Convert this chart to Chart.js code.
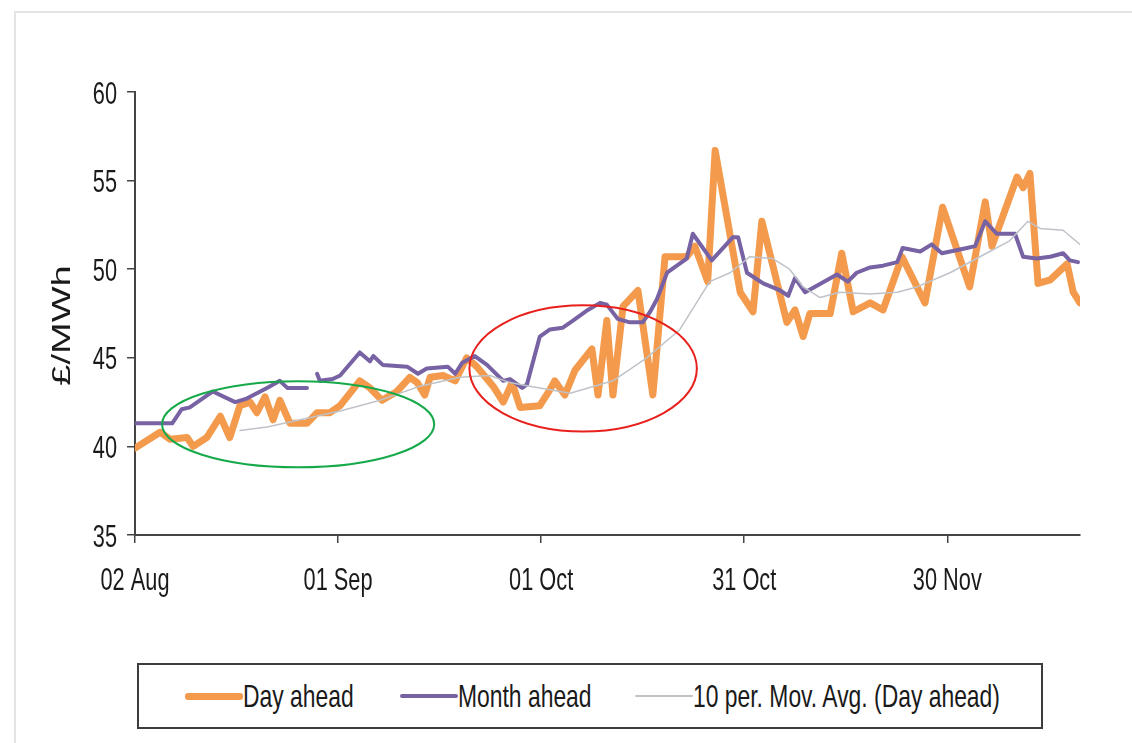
<!DOCTYPE html>
<html>
<head>
<meta charset="utf-8">
<script src="https://cdn.jsdelivr.net/npm/chart.js@4.4.1/dist/chart.umd.min.js"></script>
<style>
    html, body { margin: 0; padding: 0; background: #fff; }
    body { width: 1132px; height: 743px; position: relative; overflow: hidden;
           font-family: 'Liberation Sans', Arial, sans-serif; }
    #frame { position: absolute; left: 14px; top: 11px; right: -4px; bottom: -4px;
             border-top: 2px solid #e4e4e4; border-left: 2px solid #e4e4e4; }
    #chart-wrap { position: absolute; left: 0; top: 0; width: 1132px; height: 650px; }
    #legend { position: absolute; left: 137px; top: 663px; width: 906px; height: 66px;
              box-sizing: border-box; border: 2px solid #3c3c3c; background: #fff;
              font-size: 32px; color: #1a1a1a; }
    .item { position: absolute; top: 0; height: 62px; display: flex; align-items: center; white-space: nowrap; }
    .swatch { width: 58px; border-radius: 3px; }
    .label { display: inline-block; transform: scaleX(0.715); transform-origin: left center; }
</style>
</head>
<body>
<div id="frame"></div>
<div id="chart-wrap"><canvas id="myChart"></canvas></div>
<div id="legend"></div>

<script>
// x values are days counted from 02 Aug
const tickDays = [0, 30, 60, 90, 120];
const tickLabels = ['02 Aug', '01 Sep', '01 Oct', '31 Oct', '30 Nov'];

const dayAheadDays = [0, 3.7, 5.2, 7.7, 8.6, 10.6, 12.6, 14.0, 15.5, 17.0, 18.0, 19.2, 20.4, 21.4, 22.9,
    25.4, 26.9, 28.8, 30.3, 33.2, 34.7, 36.5, 38.7, 40.6, 41.7, 42.8, 43.6, 45.5, 47.3, 49.0, 50.5,
    52.9, 54.4, 55.7, 56.9, 59.8, 61.3, 62.0, 63.5, 65.0, 67.5, 68.4, 69.7, 70.6, 72.1, 74.3, 76.5,
    78.3, 81.5, 82.7, 84.6, 85.7, 89.4, 91.3, 92.6, 96.3, 97.5, 98.7, 99.7, 102.7, 104.4, 106.1,
    108.6, 110.5, 113.3, 116.7, 119.3, 123.3, 125.6, 126.6, 130.3, 131.2, 132.2, 133.4, 135.2,
    137.7, 138.6, 139.6];
const dayAheadPrices = [39.9, 40.8, 40.4, 40.5, 40.0, 40.5, 41.7, 40.5, 42.3, 42.5, 41.9, 42.8, 41.5, 42.6, 41.3,
    41.3, 41.9, 41.9, 42.3, 43.7, 43.3, 42.6, 43.1, 43.9, 43.6, 42.9, 43.9, 44.0, 43.7, 45.0, 44.5,
    43.4, 42.5, 43.6, 42.2, 42.3, 43.2, 43.7, 42.9, 44.3, 45.5, 42.9, 47.1, 42.9, 47.9, 48.8, 42.9,
    50.7, 50.7, 51.3, 49.3, 56.7, 48.7, 47.6, 52.7, 47.0, 47.7, 46.2, 47.5, 47.5, 50.9, 47.6,
    48.1, 47.7, 50.7, 48.1, 53.5, 49.0, 53.8, 51.3, 55.2, 54.6, 55.4, 49.2, 49.4,
    50.3, 48.7, 48.1];

const monthAheadDays = [0, 5.5, 6.9, 8.1, 11.5, 14.8, 16.5, 19.5, 21.4, 22.5, 25.4, 26.1, 26.9, 27.3, 29.2,
    30.3, 33.2, 34.7, 35.2, 36.6, 40.2, 41.8, 43.1, 46.2, 47.3, 48.3, 50.2, 52.0, 54.4, 55.4, 57.2,
    57.9, 59.8, 61.3, 63.2, 64.7, 66.9, 68.7, 69.7, 71.3, 73.1, 75.0, 76.1, 77.1, 78.6, 81.5, 82.4,
    85.2, 88.3, 89.1, 90.4, 92.8, 95.3, 96.5, 97.5, 99.0, 103.7, 105.3, 106.6, 108.6, 110.5, 112.6,
    113.4, 116.0, 117.7, 119.2, 122.9, 124.1, 125.6, 127.3, 130.0, 131.2, 133.2, 135.2, 137.1,
    138.1, 139.3];
const monthAheadPrices = [41.3, 41.3, 42.1, 42.2, 43.1, 42.5, 42.7, 43.3, 43.7, 43.3, 43.3, null, 44.1, 43.7, 43.8,
    44.0, 45.3, 44.8, 45.1, 44.6, 44.5, 44.1, 44.4, 44.5, 44.1, 44.7, 45.1, 44.6, 43.7, 43.8, 43.3,
    43.5, 46.2, 46.6, 46.7, 47.1, 47.7, 48.1, 48.0, 47.2, 47.0, 47.0, 47.6, 48.3, 49.8, 50.6, 52.0,
    50.5, 51.8, 51.8, 49.8, 49.2, 48.8, 48.5, 49.5, 48.7, 49.7, 49.3, 49.8, 50.1, 50.2, 50.4,
    51.2, 51.0, 51.4, 50.9, 51.2, 51.3, 52.7, 52.0, 52.0, 50.7, 50.6, 50.7, 50.9,
    50.5, 50.4];

const movAvgDays = [15.5, 19.5, 24.4, 30.3, 36.2, 42.1, 48.0, 52.4, 55.4, 58.3, 64.3, 70.6, 75.6, 80.5,
    84.9, 87.9, 90.8, 94.2, 96.7, 98.7, 101.2, 104.1, 108.6, 112.6, 115.5, 120.4, 125.3, 129.2,
    131.9, 133.7, 137.1, 139.6];
const movAvgPrices = [40.9, 41.1, 41.5, 42.0, 42.6, 43.4, 43.9, 44.0, 43.6, 43.4, 43.0, 43.7, 45.0, 46.6,
    49.3, 49.8, 50.7, 50.6, 50.0, 49.0, 48.4, 48.7, 48.6, 48.7, 49.0, 49.8, 50.8, 51.6,
    52.7, 52.3, 52.2, 51.4];

// the two hand-drawn rings, in data units (centre, half width in days, half height in £/MWh)
const ringCentreDays = [24.1, 66.2];
const ringCentrePrices = [41.25, 44.4];
const ringHalfDays = [20.1, 16.8];
const ringHalfPrices = [2.43, 3.56];
const ringColors = ['#16a94a', '#e8201c'];

const yTitle = '£/MWh';

const FONT = "'Liberation Sans', Arial, sans-serif";
const AXIS = '#444';
const TEXT = '#1a1a1a';
const SQUEEZE = 0.68;   // the original labels are tall and narrow

function toPoints(days, values) {
    return days.map((d, i) => ({ x: d, y: values[i] }));
}

const datasets = [
    {
        label: 'Day ahead',
        data: toPoints(dayAheadDays, dayAheadPrices),
        borderColor: '#f39a4c',
        borderWidth: 7,
        order: 3
    },
    {
        label: 'Month ahead',
        data: toPoints(monthAheadDays, monthAheadPrices),
        borderColor: '#7762a3',
        borderWidth: 4,
        order: 2
    },
    {
        label: '10 per. Mov. Avg. (Day ahead)',
        data: toPoints(movAvgDays, movAvgPrices),
        borderColor: '#bfc3c8',
        borderWidth: 1.5,
        order: 1
    }
];
datasets.forEach(ds => {
    ds.pointRadius = 0;
    ds.tension = 0;
    ds.fill = false;
    ds.spanGaps = false;
    ds.borderJoinStyle = 'round';
    ds.borderCapStyle = 'round';
});

// rings over the lines, placed through the scales
const rings = {
    id: 'rings',
    afterDatasetsDraw(chart) {
        const c = chart.ctx;
        const xs = chart.scales.x, ys = chart.scales.y;
        c.save();
        c.lineWidth = 2;
        ringCentreDays.forEach((d, i) => {
            const cx = xs.getPixelForValue(d);
            const cy = ys.getPixelForValue(ringCentrePrices[i]);
            const rx = xs.getPixelForValue(d + ringHalfDays[i]) - cx;
            const ry = cy - ys.getPixelForValue(ringCentrePrices[i] + ringHalfPrices[i]);
            c.strokeStyle = ringColors[i];
            c.beginPath();
            c.ellipse(cx, cy, rx, ry, 0, 0, Math.PI * 2);
            c.stroke();
        });
        c.restore();
    }
};

// tick labels and axis title drawn narrow, at the positions of the library's ticks
const narrowText = {
    id: 'narrowText',
    afterDraw(chart) {
        const c = chart.ctx;
        const xs = chart.scales.x, ys = chart.scales.y;
        c.save();
        c.fillStyle = TEXT;
        c.font = `32px ${FONT}`;
        c.textBaseline = 'alphabetic';

        c.textAlign = 'center';
        xs.ticks.forEach(t => {
            const px = xs.getPixelForValue(t.value);
            c.save();
            c.translate(px, xs.top + 55);
            c.scale(SQUEEZE, 1);
            c.fillText(t.label, 0, 0);
            c.restore();
        });

        c.textAlign = 'right';
        ys.ticks.forEach(t => {
            const py = ys.getPixelForValue(t.value);
            c.save();
            c.translate(ys.right - 18, py + 11.5);
            c.scale(SQUEEZE, 1);
            c.fillText(String(t.value), 0, 0);
            c.restore();
        });

        c.font = `38px ${FONT}`;
        c.textAlign = 'center';
        c.save();
        c.translate(ys.left + 40, (chart.chartArea.top + chart.chartArea.bottom) / 2 + 12);
        c.rotate(-Math.PI / 2);
        c.scale(1, SQUEEZE);
        c.fillText(yTitle, 0, 0);
        c.restore();
        c.restore();
    }
};

const ctx = document.getElementById('myChart').getContext('2d');
const chartInstance = new Chart(ctx, {
    type: 'line',
    data: { datasets },
    plugins: [rings, narrowText],
    options: {
        animation: false,
        responsive: true,
        maintainAspectRatio: false,
        layout: { padding: { left: 30, right: 52, top: 92, bottom: 0 } },
        plugins: {
            legend: { display: false },
            tooltip: { enabled: false }
        },
        scales: {
            x: {
                type: 'linear',
                min: 0,
                max: 139.6,
                afterBuildTicks: scale => { scale.ticks = tickDays.map(v => ({ value: v })); },
                afterFit: scale => { scale.height = 650 - 535; },
                ticks: {
                    display: false,
                    autoSkip: false,
                    callback: v => {
                        const i = tickDays.indexOf(v);
                        return i >= 0 ? tickLabels[i] : '';
                    }
                },
                grid: { drawOnChartArea: false, drawTicks: true, tickLength: 8, color: AXIS, lineWidth: 1.5 },
                border: { display: true, color: AXIS, width: 2 }
            },
            y: {
                min: 35,
                max: 60,
                afterFit: scale => { scale.width = 135 - 30; },
                ticks: { display: false, stepSize: 5 },
                grid: { drawOnChartArea: false, drawTicks: true, tickLength: 8, color: AXIS, lineWidth: 1.5 },
                border: { display: true, color: AXIS, width: 2 }
            }
        }
    }
});

// legend box below the plot, built from the datasets
const legendX = [46, 261, 496];
const legendEl = document.getElementById('legend');
chartInstance.data.datasets.forEach((ds, i) => {
    const item = document.createElement('div');
    item.className = 'item';
    item.style.left = legendX[i] + 'px';
    const sw = document.createElement('span');
    sw.className = 'swatch';
    sw.style.height = ds.borderWidth + 'px';
    sw.style.background = ds.borderColor;
    const txt = document.createElement('span');
    txt.className = 'label';
    txt.textContent = ds.label;
    item.appendChild(sw);
    item.appendChild(txt);
    legendEl.appendChild(item);
});
</script>
</body>
</html>
